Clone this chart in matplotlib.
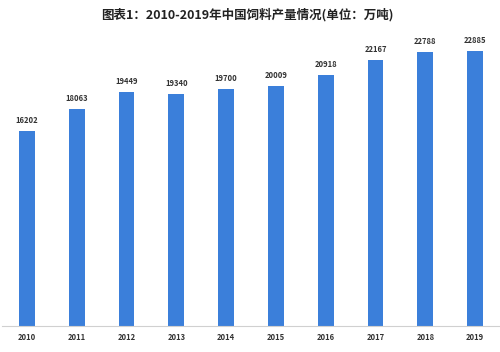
import matplotlib
matplotlib.use('Agg')
import matplotlib.pyplot as plt

plt.rcParams['font.family'] = ['Noto Sans CJK SC', 'DejaVu Sans']

years = ['2010', '2011', '2012', '2013', '2014', '2015', '2016', '2017', '2018', '2019']
output = [16202, 18063, 19449, 19340, 19700, 20009, 20918, 22167, 22788, 22885]

fig = plt.figure(figsize=(5, 3.52), dpi=100)
ax = fig.add_axes([0.004, 26 / 352, 0.996, 286 / 352])

x = range(len(years))
ax.bar(x, output, width=0.32, color='#3b7fda', zorder=2)
for i, v in zip(x, output):
    ax.text(i, v + 500, str(v), ha='center', va='bottom',
            fontsize=5.5, fontweight='bold', color='#333333')

ax.set_xlim(-0.5, len(years) - 0.5)
ax.set_ylim(0, 23800)
ax.set_xticks(list(x))
ax.set_xticklabels(years, fontsize=5.5, fontweight='bold', color='#333333')
ax.tick_params(axis='x', length=0, pad=5)
ax.set_yticks([])
for s in ['top', 'right', 'left']:
    ax.spines[s].set_visible(False)
ax.spines['bottom'].set_color('#d0d0d0')
ax.spines['bottom'].set_linewidth(0.8)

fig.text(0.494, 0.957, '图表1：2010-2019年中国饲料产量情况(单位：万吨)',
         ha='center', va='center', fontsize=9, fontweight='bold', color='#222222')

fig.savefig('out.png', dpi=100)
